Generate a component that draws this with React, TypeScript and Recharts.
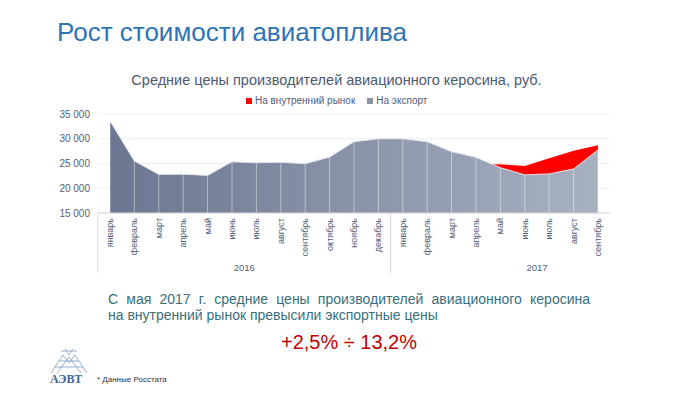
import React from "react";
import {
  AreaChart,
  Area,
  XAxis,
  YAxis,
  CartesianGrid,
  ReferenceLine,
} from "recharts";

const FONT = "'Liberation Sans', Arial, sans-serif";

const ids = [
  "2016-01", "2016-02", "2016-03", "2016-04", "2016-05", "2016-06",
  "2016-07", "2016-08", "2016-09", "2016-10", "2016-11", "2016-12",
  "2017-01", "2017-02", "2017-03", "2017-04", "2017-05", "2017-06",
  "2017-07", "2017-08", "2017-09",
];
const monthNames = [
  "январь", "февраль", "март", "апрель", "май", "июнь",
  "июль", "август", "сентябрь", "октябрь", "ноябрь", "декабрь",
  "январь", "февраль", "март", "апрель", "май", "июнь",
  "июль", "август", "сентябрь",
];
const years = ["2016", "2017"];

// Цены на экспорт, руб.
const exportPrices = [
  33600, 25500, 22800, 22850, 22600, 25350, 25150, 25250, 24950, 26300,
  29400, 30000, 30000, 29400, 27400, 26250, 24150, 22700, 22900, 23900,
  27750,
];
// Цены на внутренний рынок, руб.
const domesticPrices = [
  21900, 21000, 20500, 21300, 21800, 22400, 22700, 22500, 22300, 23000,
  24500, 25500, 25800, 25700, 25200, 24750, 24850, 24500, 26050, 27600,
  28700,
];

const seriesNames = ["На внутренний рынок", "На экспорт"];
const yTicks = [15000, 20000, 25000, 30000, 35000];

const rows = ids.map((id, i) => ({
  id,
  month: monthNames[i],
  domestic: domesticPrices[i],
  export: exportPrices[i],
}));

// plot geometry
const PLOT_LEFT = 98;
const PLOT_RIGHT = 610;
const PAD = 12;
const STEP = (PLOT_RIGHT - PLOT_LEFT - 2 * PAD) / (ids.length - 1);

const MonthTick = (props: any) => {
  const { x, y, index } = props;
  const startOfYear = ids[index].endsWith("-01");
  const yearLabel =
    index === 5 ? years[0] : index === 17 ? years[1] : null;
  return (
    <g>
      <text
        transform={`translate(${x + 3},${y + 5}) rotate(-90)`}
        textAnchor="end"
        fontSize={9}
        fontFamily={FONT}
        fill="#535d75"
      >
        {monthNames[index]}
      </text>
      {startOfYear && (
        <line
          x1={x - STEP / 2}
          x2={x - STEP / 2}
          y1={y}
          y2={y + 60}
          stroke="#d9d9d9"
        />
      )}
      {yearLabel && (
        <text
          x={x + STEP / 2}
          y={y + 58}
          textAnchor="middle"
          fontSize={9.5}
          fontFamily={FONT}
          fill="#535d75"
        >
          {yearLabel}
        </text>
      )}
    </g>
  );
};

const fmt = (v: number) => `${Math.floor(v / 1000)} 000`;

const Logo = () => (
  <svg width={40} height={26} style={{ position: "absolute", left: 49, top: 349 }}>
    <g stroke="#7d9cc4" strokeWidth={0.8} fill="none">
      <path d="M2 24 L14 6 L20 14 L26 6 L38 24" />
      <path d="M8 24 L20 8 L32 24" />
      <path d="M12 2 L28 2 M16 0 L20 6 L24 0" />
      <path d="M6 18 L34 18 M10 12 L30 12" />
    </g>
  </svg>
);

export default function App() {
  return (
    <div
      style={{
        position: "absolute",
        left: 0,
        top: 0,
        width: 700,
        height: 394,
        background: "#fff",
        fontFamily: FONT,
        overflow: "hidden",
      }}
    >
      <div
        style={{
          position: "absolute",
          left: 57,
          top: 19,
          fontSize: 26,
          lineHeight: "26px",
          color: "#2e74b5",
          whiteSpace: "nowrap",
        }}
      >
        Рост стоимости авиатоплива
      </div>
      <div
        style={{
          position: "absolute",
          left: 0,
          width: 673,
          top: 73,
          fontSize: 14.5,
          lineHeight: "15px",
          color: "#4e5870",
          textAlign: "center",
          whiteSpace: "nowrap",
        }}
      >
        Средние цены производителей авиационного керосина, руб.
      </div>

      {/* legend */}
      <div
        style={{
          position: "absolute",
          left: 246,
          top: 96,
          fontSize: 10,
          lineHeight: "10px",
          color: "#535d75",
          display: "flex",
          alignItems: "center",
          whiteSpace: "nowrap",
        }}
      >
        <span style={{ width: 6, height: 6, background: "#ff0000", marginRight: 3 }} />
        <span style={{ marginRight: 12 }}>{seriesNames[0]}</span>
        <span style={{ width: 6, height: 6, background: "#8a93a8", marginRight: 3 }} />
        <span>{seriesNames[1]}</span>
      </div>

      <div style={{ position: "absolute", left: 0, top: 0 }}>
        <AreaChart
          width={700}
          height={394}
          data={rows}
          margin={{ top: 114, right: 700 - PLOT_RIGHT, left: PLOT_LEFT - 60, bottom: 111 }}
        >
          <defs>
            <linearGradient id="exportFill" x1="0" y1="0" x2="1" y2="0">
              <stop offset="0%" stopColor="#6b7691" />
              <stop offset="100%" stopColor="#a9b1c1" />
            </linearGradient>
          </defs>
          <CartesianGrid horizontal vertical={false} stroke="#efefef" />
          <XAxis
            dataKey="id"
            interval={0}
            padding={{ left: PAD, right: PAD }}
            height={70}
            tickLine={false}
            tickSize={0}
            tickMargin={0}
            axisLine={{ stroke: "#d9d9d9" }}
            tick={<MonthTick />}
          />
          <YAxis
            width={60}
            domain={[15000, 35000]}
            ticks={yTicks}
            axisLine={false}
            tickLine={false}
            tickMargin={2}
            tickFormatter={fmt}
            tick={{ fontSize: 10, fill: "#535d75", fontFamily: FONT }}
          />
          <Area
            type="linear"
            dataKey="domestic"
            name={seriesNames[0]}
            fill="#ff0000"
            fillOpacity={1}
            stroke="none"
            isAnimationActive={false}
          />
          <Area
            type="linear"
            dataKey="export"
            name={seriesNames[1]}
            fill="url(#exportFill)"
            fillOpacity={1}
            stroke="#e4e7ed"
            strokeWidth={1}
            isAnimationActive={false}
          />
          {rows.map((r) => (
            <ReferenceLine
              key={r.id}
              segment={[
                { x: r.id, y: 15000 },
                { x: r.id, y: r.export },
              ]}
              stroke="#ffffff"
              strokeOpacity={0.45}
            />
          ))}
        </AreaChart>
      </div>

      <div
        style={{
          position: "absolute",
          left: 108,
          top: 292,
          width: 482,
          fontSize: 14,
          lineHeight: "15.5px",
          color: "#37707c",
        }}
      >
        <div style={{ textAlign: "justify", textAlignLast: "justify", whiteSpace: "nowrap" }}>
          С мая 2017 г. средние цены производителей авиационного керосина
        </div>
        <div style={{ whiteSpace: "nowrap" }}>на внутренний рынок превысили экспортные цены</div>
      </div>
      <div
        style={{
          position: "absolute",
          left: 0,
          width: 698,
          top: 332,
          fontSize: 20,
          lineHeight: "20px",
          color: "#c00000",
          textAlign: "center",
        }}
      >
        +2,5% ÷ 13,2%
      </div>

      <Logo />
      <div
        style={{
          position: "absolute",
          left: 50,
          top: 373,
          fontSize: 12,
          lineHeight: "12px",
          fontWeight: "bold",
          fontFamily: "'Liberation Serif', serif",
          color: "#3f6797",
        }}
      >
        АЭВТ
      </div>
      <div
        style={{
          position: "absolute",
          left: 97,
          top: 376,
          fontSize: 8,
          lineHeight: "8px",
          color: "#333",
        }}
      >
        * Данные Росстата
      </div>
    </div>
  );
}
